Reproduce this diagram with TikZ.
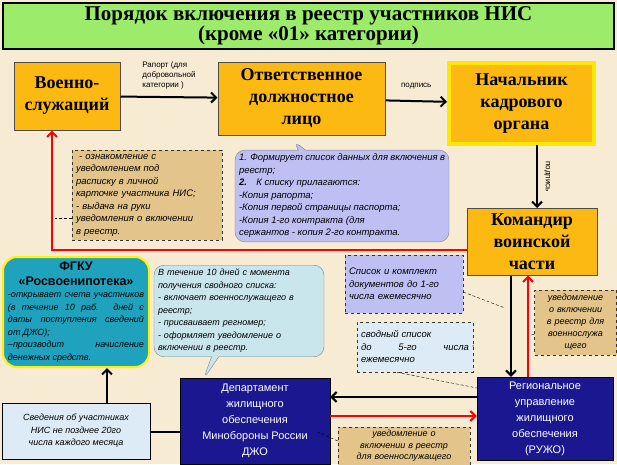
\documentclass[tikz,border=0pt]{standalone}
\usepackage{fontspec}
\setmainfont{Liberation Serif}
\setsansfont{Liberation Sans}
\usetikzlibrary{arrows.meta, shapes.callouts}

\definecolor{bg}{HTML}{F7EBD3}
\definecolor{titlegreen}{HTML}{9CEB6A}
\definecolor{boxorange}{HTML}{FBB911}
\definecolor{navy}{HTML}{1A1790}
\definecolor{teal}{HTML}{1FA2BE}
\definecolor{lilac}{HTML}{BEC0F4}
\definecolor{tan}{HTML}{E3C58C}
\definecolor{paleblue}{HTML}{DCEBF5}
\definecolor{bubbleblue}{HTML}{C9E6EC}

\tikzset{
    orangebox/.style={draw=black!70, fill=boxorange, line width=1pt, align=center,
        font=\bfseries\fontsize{18}{22}\selectfont},
    navybox/.style={draw=black, fill=navy, text=white, align=center,
        font=\sffamily\fontsize{11}{16}\selectfont},
    notebox/.style={draw=black!80, dashed, align=left, inner sep=3pt,
        font=\sffamily\itshape\fontsize{9.5}{12.5}\selectfont},
    arr/.style={-{Straight Barb[length=5pt]}, line width=2pt},
    leader/.style={densely dashed, thin}
}

\begin{document}
\begin{tikzpicture}[x=1pt, y=-1pt]

\fill[bg] (0,0) rectangle (617,464);
\useasboundingbox (0,0) rectangle (617,464);

% title
\node[draw=black, fill=titlegreen, line width=1.2pt, minimum width=611pt, minimum height=46pt,
    align=center, font=\bfseries\fontsize{21}{20}\selectfont] (title) at (308.5,26)
    {Порядок включения в реестр участников НИС\\(кроме «01» категории)};

% main boxes
\node[orangebox, minimum width=106pt, minimum height=68pt] (soldier) at (67,96) {Военно-\\служащий};
\node[orangebox, minimum width=167pt, minimum height=73pt] (officer) at (301.5,98.5) {Ответственное\\должностное\\лицо};
\node[orangebox, draw=yellow!90!orange, line width=4pt, minimum width=145pt, minimum height=81pt] (chief) at (521.5,103.5) {Начальник\\кадрового\\органа};
\node[orangebox, minimum width=130pt, minimum height=67pt] (commander) at (532,241.5) {Командир\\воинской\\части};
\node[navybox, minimum width=150pt, minimum height=86pt] (dzho) at (255,421) {Департамент\\жилищного\\обеспечения\\Минобороны России\\ДЖО};
\node[navybox, minimum width=136pt, minimum height=83pt] (ruzho) at (545,418.5) {Региональное\\управление\\жилищного\\обеспечения\\(РУЖО)};

% FGKU
\node[draw=yellow, line width=2pt, fill=teal, rounded corners=14pt, minimum width=146pt,
    minimum height=110pt, text width=136pt, align=justify, inner sep=4pt,
    font=\sffamily\itshape\fontsize{9}{12.5}\selectfont] (fgku) at (76,312)
    {{\centering\upshape\bfseries\fontsize{12.5}{15}\selectfont ФГКУ\\«Росвоенипотека»\par}
     -открывает счета участников (в течение 10 раб. дней с даты поступления сведений от ДЖО);\par
     --производит начисление денежных средств.};

% callouts
\node[rectangle callout, draw=gray, fill=lilac, rounded corners=10pt, text width=206pt,
    inner sep=4pt, callout absolute pointer={(293,140)}, align=justify,
    font=\sffamily\itshape\fontsize{9.5}{12.5}\selectfont] (forms) at (342,196)
    {1. Формирует список данных для включения в реестр;\\
     \textbf{2.}\quad К списку прилагаются:\\
     -Копия рапорта;\\-Копия первой страницы паспорта;\\-Копия 1-го контракта (для\\сержантов - копия 2-го контракта.};
\node[rectangle callout, draw=gray, fill=bubbleblue, rounded corners=10pt, text width=162pt,
    inner sep=4pt, callout absolute pointer={(203,380)}, align=left,
    font=\sffamily\itshape\fontsize{9}{12.5}\selectfont] (registry) at (239,311)
    {В течение 10 дней с момента получения сводного списка:\\
     - включает военнослужащего в реестр;\\
     - присваивает регномер;\\
     - оформляет уведомление о включении в реестр.};

% notes
\node[notebox, fill=tan, minimum width=150pt, minimum height=90pt, text width=142pt] (acquaint) at (147,195)
    {\ - ознакомление с\\уведомлением под\\расписку в личной\\карточке участника НИС;\\- выдача на руки\\уведомления о включении\\в реестр.};
\node[notebox, fill=lilac, minimum width=118pt, minimum height=58pt, text width=110pt] (monthly) at (404,284)
    {Список и комплект документов до 1-го числа ежемесячно};
\node[notebox, fill=paleblue, minimum width=116pt, minimum height=50pt, text width=108pt] (summary) at (415,347)
    {сводный список\\ до\hfill 5-го\hfill числа\\ежемесячно};
\node[notebox, fill=tan, minimum width=81pt, minimum height=65pt, text width=76pt, align=center,
    font=\sffamily\itshape\fontsize{9}{12}\selectfont] (notifyA) at (575.5,322.5)
    {уведомление\\о включении\\в реестр для\\военнослужа\\щего};
\node[notebox, fill=tan, minimum width=132pt, minimum height=38pt, text width=126pt, align=center,
    font=\sffamily\itshape\fontsize{9}{11.5}\selectfont] (notifyB) at (404,446)
    {уведомление о\\включении в реестр\\для военнослужащего};
\node[draw=black, fill=paleblue, minimum width=148pt, minimum height=56pt, align=center,
    font=\sffamily\itshape\fontsize{9}{12.5}\selectfont] (report) at (76,431)
    {Сведения об участниках\\НИС не позднее 20го\\числа каждого месяца};

% arrows
\draw[arr] (soldier) -- node[above, align=left, yshift=4pt,
    font=\sffamily\fontsize{8}{10}\selectfont] {Рапорт (для\\добровольной\\категории )} (officer);
\draw[arr] (officer) -- node[above, yshift=8pt, font=\sffamily\fontsize{8}{10}\selectfont] {подпись} (chief);
\draw[arr] (537,145) -- node[rotate=-90, anchor=south, yshift=3pt,
    font=\sffamily\fontsize{8}{10}\selectfont] {подпись} (537,208);
\draw[arr, red] (commander.west |- 0,250) -| (soldier.south -| 52,0);
\draw[arr] (commander.south -| 511,0) -- (ruzho.north -| 511,0);
\draw[arr, red] (ruzho.north -| 528,0) -- (commander.south -| 528,0);
\draw[arr] (ruzho.west |- 0,397) -- (dzho.east |- 0,397);
\draw[arr, red] (dzho.east |- 0,416) -- (ruzho.west |- 0,416);
\draw[arr] (report.north -| 107,0) -- (fgku.south -| 107,0);
\draw[line width=2pt] (report.east |- 0,432) -- (dzho.west |- 0,432);

% leaders
\draw[leader] (acquaint.west) ++(0,23) -- (55,218);
\draw[leader] (monthly.east) ++(0,8) -- (505,308);
\draw[leader] (summary.east) -- (473,345);
\draw[leader] (notifyA.west) ++(0,12) -- (530,334);
\draw[leader] (summary.south west) ++(40,0) -- (477,388);
\draw[leader] (notifyB.west) ++(0,-5) -- (318,432);

\end{tikzpicture}
\end{document}
